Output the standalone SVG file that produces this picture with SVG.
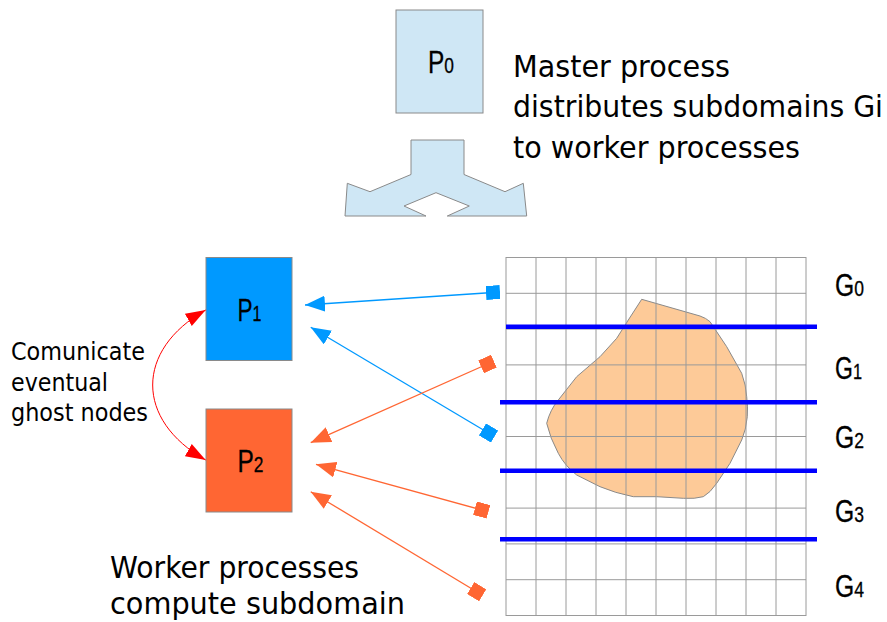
<svg xmlns="http://www.w3.org/2000/svg" width="887" height="622" viewBox="0 0 887 622">
  <style>
    .box { stroke: #8a8a8a; stroke-width: 1; }
    .label { font-family: "Liberation Sans", Arial, sans-serif; font-size: 31px; fill: #000; stroke: #000; stroke-width: 0.3; }
    .sub { font-size: 22px; }
    .note { font-family: "DejaVu Sans", Verdana, sans-serif; fill: #000; }
    .big { font-size: 30px; }
    .mid { font-size: 24px; }
    .grid { stroke: #9a9a9a; stroke-width: 1; fill: none; }
    .cut { stroke: #0000ff; stroke-width: 4.5; }
    .blue { stroke: #0099ff; stroke-width: 1.3; fill: none; }
    .orange { stroke: #ff6633; stroke-width: 1.3; fill: none; }
  </style>
  <defs>
    <marker id="headBlue" viewBox="0 0 20 16" refX="20" refY="8" markerWidth="20" markerHeight="16" markerUnits="userSpaceOnUse" orient="auto">
      <path d="M0,0 L20,8 L0,16 z" fill="#0099ff"/>
    </marker>
    <marker id="headOrange" viewBox="0 0 20 16" refX="20" refY="8" markerWidth="20" markerHeight="16" markerUnits="userSpaceOnUse" orient="auto">
      <path d="M0,0 L20,8 L0,16 z" fill="#ff6633"/>
    </marker>
    <marker id="sqBlue" viewBox="0 0 14 14" refX="7" refY="7" markerWidth="14" markerHeight="14" markerUnits="userSpaceOnUse" orient="auto">
      <rect x="0" y="0" width="14" height="14" fill="#0099ff"/>
    </marker>
    <marker id="sqOrange" viewBox="0 0 14 14" refX="7" refY="7" markerWidth="14" markerHeight="14" markerUnits="userSpaceOnUse" orient="auto">
      <rect x="0" y="0" width="14" height="14" fill="#ff6633"/>
    </marker>
    <marker id="headRed" viewBox="0 0 20 14" refX="20" refY="7" markerWidth="20" markerHeight="14" markerUnits="userSpaceOnUse" orient="auto-start-reverse">
      <path d="M0,0 L20,7 L0,14 z" fill="#ff0000"/>
    </marker>
  </defs>

  <rect width="887" height="622" fill="#ffffff"/>

  <!-- master process -->
  <g id="p0">
    <rect class="box" x="396" y="10" width="87" height="103" fill="#cfe7f5"/>
    <text class="label" x="428" y="73" textLength="26" lengthAdjust="spacingAndGlyphs">P<tspan class="sub">0</tspan></text>
  </g>

  <!-- split arrow -->
  <g id="split">
    <path class="box" fill="#cfe7f5" d="M411,140 L464,140 L464,174.5 L505,191.7 L523.3,183.3 L526.7,216 L447.3,216 L469.3,206 L436,192.7 L404,206 L426,216 L345,216 L347.3,183.3 L370,191.7 L411,174.5 Z"/>
  </g>

  <g id="master-text">
    <text class="note big" x="513" y="77" textLength="217" lengthAdjust="spacingAndGlyphs">Master process</text>
    <text class="note big" x="513" y="117" textLength="370" lengthAdjust="spacingAndGlyphs">distributes subdomains Gi</text>
    <text class="note big" x="513" y="158" textLength="287" lengthAdjust="spacingAndGlyphs">to worker processes</text>
  </g>

  <!-- domain grid with body -->
  <g id="domain">
    <path fill="#fdca98" stroke="#8a8a8a" stroke-width="1" d="M641.7,299.3 L700,316 Q706,318 710,321.7 L726.7,346.7 L741.7,373.3 Q746,385 746.7,396.7 Q748,407 747.3,416.7 Q746,430 741.7,440 L730,463.3 L716.7,483.3 Q710,493 703.3,496.7 Q695,499 683.3,498.3 L656.7,496.7 L633.3,496.7 Q615,493 600,486.7 L576.7,475 Q565,466 558.3,453.3 Q550,438 546.7,423.3 Q550,410 558.3,400 L576.7,376.7 L600,356.7 L616.7,338.3 L628.3,320 Z"/>
    <g class="grid">
      <rect x="506" y="257.5" width="300" height="358"/>
      <path d="M536,257.5V615.5 M566,257.5V615.5 M596,257.5V615.5 M626,257.5V615.5 M656,257.5V615.5 M686,257.5V615.5 M716,257.5V615.5 M746,257.5V615.5 M776,257.5V615.5"/>
      <path d="M506,293.3H806 M506,329.1H806 M506,364.9H806 M506,400.7H806 M506,436.5H806 M506,472.3H806 M506,508.1H806 M506,543.9H806 M506,579.7H806"/>
    </g>
    <g class="cut">
      <line x1="506" y1="326.7" x2="817" y2="326.7"/>
      <line x1="500" y1="402.3" x2="817" y2="402.3"/>
      <line x1="500" y1="470.7" x2="817" y2="470.7"/>
      <line x1="500" y1="539.3" x2="817" y2="539.3"/>
    </g>
  </g>

  <g id="subdomain-labels">
    <text class="label" x="835" y="296" textLength="29" lengthAdjust="spacingAndGlyphs">G<tspan class="sub">0</tspan></text>
    <text class="label" x="835" y="379" textLength="27" lengthAdjust="spacingAndGlyphs">G<tspan class="sub">1</tspan></text>
    <text class="label" x="835" y="448" textLength="29" lengthAdjust="spacingAndGlyphs">G<tspan class="sub">2</tspan></text>
    <text class="label" x="835" y="522" textLength="29" lengthAdjust="spacingAndGlyphs">G<tspan class="sub">3</tspan></text>
    <text class="label" x="835" y="597" textLength="29" lengthAdjust="spacingAndGlyphs">G<tspan class="sub">4</tspan></text>
  </g>

  <!-- worker processes -->
  <g id="p1">
    <rect class="box" x="206" y="257.5" width="86" height="103" fill="#0099ff"/>
    <text class="label" x="237.5" y="321" textLength="24" lengthAdjust="spacingAndGlyphs">P<tspan class="sub">1</tspan></text>
  </g>
  <g id="p2">
    <rect class="box" x="206" y="409" width="86" height="103" fill="#ff6633"/>
    <text class="label" x="237.5" y="472" textLength="26" lengthAdjust="spacingAndGlyphs">P<tspan class="sub">2</tspan></text>
  </g>

  <g id="ghost-text">
    <text class="note mid" x="11" y="360" textLength="134" lengthAdjust="spacingAndGlyphs">Comunicate</text>
    <text class="note mid" x="11" y="390.5" textLength="97" lengthAdjust="spacingAndGlyphs">eventual</text>
    <text class="note mid" x="11" y="421" textLength="137" lengthAdjust="spacingAndGlyphs">ghost nodes</text>
  </g>

  <g id="worker-text">
    <text class="note big" x="110" y="578" textLength="249" lengthAdjust="spacingAndGlyphs">Worker processes</text>
    <text class="note big" x="110" y="614" textLength="295" lengthAdjust="spacingAndGlyphs">compute subdomain</text>
  </g>

  <!-- connectors -->
  <g id="connectors">
    <path class="blue" d="M493,292.5 L305,305" marker-start="url(#sqBlue)" marker-end="url(#headBlue)"/>
    <path class="blue" d="M488.5,433 L310.7,327.3" marker-start="url(#sqBlue)" marker-end="url(#headBlue)"/>
    <path class="orange" d="M487.5,364 L310.7,442.7" marker-start="url(#sqOrange)" marker-end="url(#headOrange)"/>
    <path class="orange" d="M481.7,510 L316,464.3" marker-start="url(#sqOrange)" marker-end="url(#headOrange)"/>
    <path class="orange" d="M476.7,591.7 L310.7,491.7" marker-start="url(#sqOrange)" marker-end="url(#headOrange)"/>
    <path d="M205.7,310 C135,350 135,420 205.7,460" fill="none" stroke="#ff0000" stroke-width="1" marker-start="url(#headRed)" marker-end="url(#headRed)"/>
  </g>
</svg>
